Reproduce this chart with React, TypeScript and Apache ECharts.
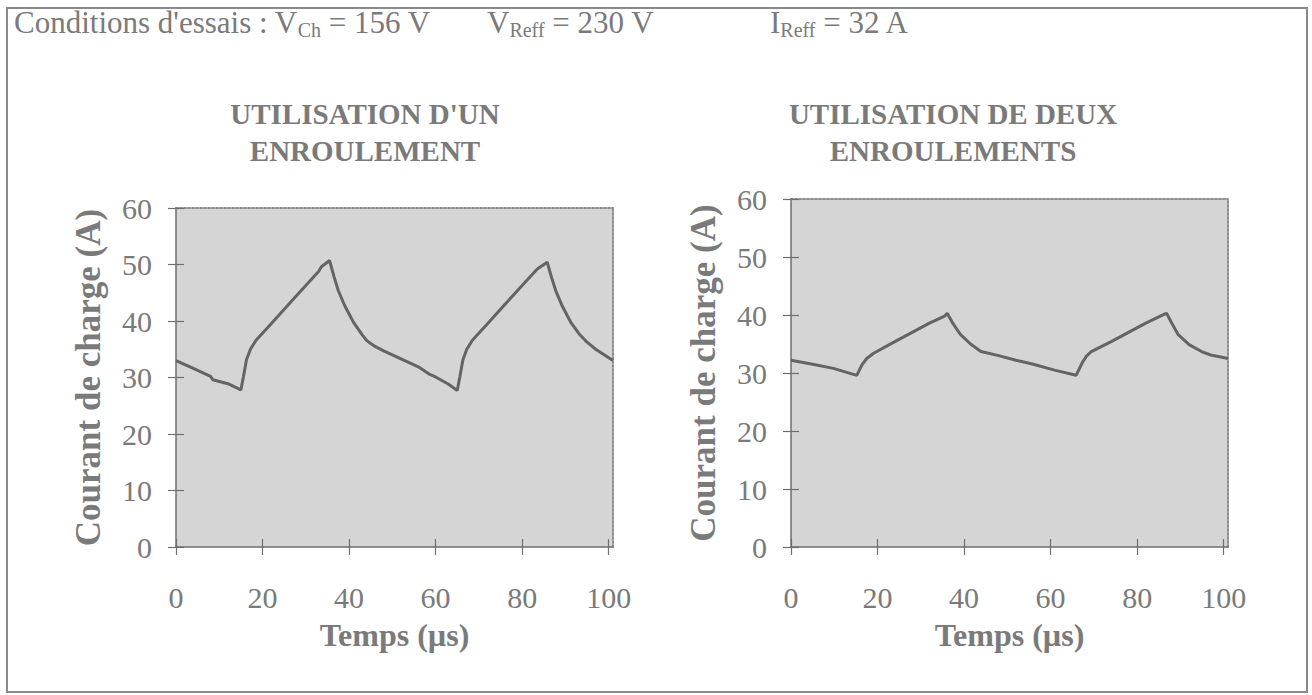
import React, { useEffect, useRef } from "react";
import * as echarts from "echarts";

// ---- Data ----
const leftTime = [0, 4, 8, 8.5, 12, 15, 15.6, 16.3, 17.2, 18.5, 22, 26, 30, 33, 33.6, 35.5, 36.5, 37.5, 39, 41, 43, 44, 44.5, 46, 48, 52, 56, 58.5, 60, 63, 65, 65.6, 66.3, 67.2, 68.5, 72, 76, 80, 83.5, 85.8, 86.8, 87.8, 89.3, 91.3, 93.3, 94.3, 94.8, 97, 101];
const leftCurrent = [33, 31.6, 30.2, 29.6, 28.9, 27.8, 30.2, 33.2, 35.0, 36.6, 39.5, 42.9, 46.3, 48.8, 49.6, 50.7, 47.9, 45.4, 42.7, 39.8, 37.6, 36.6, 36.3, 35.5, 34.7, 33.3, 31.9, 30.6, 30.1, 28.8, 27.7, 30.1, 33.1, 35.0, 36.6, 39.5, 42.9, 46.3, 49.2, 50.4, 47.7, 45.3, 42.6, 39.7, 37.6, 36.8, 36.4, 35.0, 33];

const rightTime = [0, 5, 9.8, 15.2, 16.4, 17.5, 19.1, 24, 28, 32, 35.5, 36.1, 37.3, 39.2, 41.5, 43.9, 48, 52, 56, 60.9, 65.9, 67.4, 68.3, 69.4, 74, 78, 82, 86.2, 86.8, 88, 89.5, 92, 94.9, 97, 101];
const rightCurrent = [32.2, 31.5, 30.8, 29.6, 31.4, 32.5, 33.4, 35.4, 37.0, 38.6, 39.8, 40.3, 38.7, 36.6, 35.0, 33.7, 33.0, 32.2, 31.5, 30.5, 29.6, 31.9, 32.9, 33.7, 35.4, 37.0, 38.6, 40.1, 40.3, 38.6, 36.6, 34.9, 33.7, 33.1, 32.5];

const xTicks = [0, 20, 40, 60, 80, 100];
const yMin = 0;
const yMax = 60;
const yStep = 10;
const xMin = 0;
const xMax = 101;

const titles = ["UTILISATION D'UN\nENROULEMENT", "UTILISATION DE DEUX\nENROULEMENTS"];
const xName = "Temps (µs)";
const yName = "Courant de charge (A)";

const FONT = '"Liberation Serif", "Times New Roman", serif';
const TEXT = "#7a7a7a";
const AXIS = "#6e6e6e";

export default function App() {
  const ref = useRef<HTMLDivElement>(null);
  useEffect(() => {
    if (!ref.current) return;
    const chart = echarts.init(ref.current, null, { renderer: "svg" });

    const grids = [
      { left: 176, top: 208, width: 437, height: 339 },
      { left: 791, top: 199, width: 437, height: 348 },
    ];

    const xAxes: any[] = [];
    const yAxes: any[] = [];
    grids.forEach((_, gi) => {
      xAxes.push({
        gridIndex: gi, type: "value", position: "bottom", min: xMin, max: xMax,
        axisLine: { show: true, onZero: false, lineStyle: { color: AXIS, width: 1.5 } },
        axisTick: { show: true, length: 8, customValues: xTicks, lineStyle: { color: AXIS, width: 1.2 } },
        axisLabel: { show: true, customValues: xTicks, fontSize: 30, fontFamily: FONT, color: TEXT, margin: 35 },
        splitLine: { show: false },
        name: xName, nameLocation: "middle", nameGap: 72,
        nameTextStyle: { fontSize: 32, fontWeight: "bold", fontFamily: FONT, color: TEXT },
      });
      xAxes.push({
        gridIndex: gi, type: "value", position: "bottom", min: xMin, max: xMax,
        axisLine: { show: false },
        axisTick: { show: true, inside: true, length: 8, customValues: xTicks, lineStyle: { color: AXIS, width: 1.2 } },
        axisLabel: { show: false }, splitLine: { show: false },
      });
      xAxes.push({
        gridIndex: gi, type: "value", position: "top", min: xMin, max: xMax,
        axisLine: { show: true, onZero: false, lineStyle: { color: "#8c8c8c", width: 2, type: "dotted" } },
        axisTick: { show: false }, axisLabel: { show: false }, splitLine: { show: false },
      });
      yAxes.push({
        gridIndex: gi, type: "value", position: "left", min: yMin, max: yMax, interval: yStep,
        axisLine: { show: true, onZero: false, lineStyle: { color: AXIS, width: 1.5 } },
        axisTick: { show: true, length: 8, lineStyle: { color: AXIS, width: 1.2 } },
        axisLabel: { show: true, fontSize: 30, fontFamily: FONT, color: TEXT, margin: 24 },
        splitLine: { show: false },
        name: yName, nameLocation: "middle", nameGap: 70,
        nameTextStyle: { fontSize: 35, fontWeight: "bold", fontFamily: FONT, color: TEXT },
      });
      yAxes.push({
        gridIndex: gi, type: "value", position: "left", min: yMin, max: yMax, interval: yStep,
        axisLine: { show: false },
        axisTick: { show: true, inside: true, length: 8, lineStyle: { color: AXIS, width: 1.2 } },
        axisLabel: { show: false }, splitLine: { show: false },
      });
      yAxes.push({
        gridIndex: gi, type: "value", position: "right", min: yMin, max: yMax, interval: yStep,
        axisLine: { show: true, onZero: false, lineStyle: { color: "#8c8c8c", width: 2, type: "dotted" } },
        axisTick: { show: false }, axisLabel: { show: false }, splitLine: { show: false },
      });
    });

    const mk = (t: number[], v: number[]) => t.map((x, i) => [x, v[i]]);

    const rich = {
      sub: { fontSize: 20, fontFamily: FONT, color: TEXT, padding: [15, 0, 0, 0] },
      b: { fontSize: 31, fontFamily: FONT, color: TEXT },
    };

    chart.setOption({
      animation: false,
      backgroundColor: "#ffffff",
      grid: grids.map((g) => ({
        ...g, show: true, backgroundColor: "#d5d5d5", borderWidth: 0, containLabel: false,
      })),
      xAxis: xAxes,
      yAxis: yAxes,
      series: [
        {
          type: "line", xAxisIndex: 0, yAxisIndex: 0, data: mk(leftTime, leftCurrent),
          showSymbol: false, lineStyle: { color: "#646464", width: 3 }, smooth: false,
        },
        {
          type: "line", xAxisIndex: 3, yAxisIndex: 3, data: mk(rightTime, rightCurrent),
          showSymbol: false, lineStyle: { color: "#646464", width: 3 }, smooth: false,
        },
      ],
      graphic: [
        {
          type: "rect", silent: true, z: -1,
          shape: { x: 7, y: 8, width: 1300, height: 684 },
          style: { fill: "none", stroke: "#8a8a8a", lineWidth: 2 },
        },
        {
          type: "text", x: 14, y: 5,
          style: {
            text: "{b|Conditions d'essais : V}{sub|Ch}{b| = 156 V}",
            rich, fill: TEXT,
          },
        },
        {
          type: "text", x: 487, y: 5,
          style: { text: "{b|V}{sub|Reff}{b| = 230 V}", rich, fill: TEXT },
        },
        {
          type: "text", x: 770, y: 5,
          style: { text: "{b|I}{sub|Reff}{b| = 32 A}", rich, fill: TEXT },
        },
        {
          type: "text", x: 365, y: 95,
          style: {
            text: titles[0], textAlign: "center", fill: TEXT, lineHeight: 37,
            font: `bold 29px ${FONT}`,
          },
        },
        {
          type: "text", x: 953, y: 95,
          style: {
            text: titles[1], textAlign: "center", fill: TEXT, lineHeight: 37,
            font: `bold 29px ${FONT}`,
          },
        },
      ],
    });

    return () => chart.dispose();
  }, []);

  return (
    <div
      ref={ref}
      style={{ position: "fixed", left: 0, top: 0, width: 1312, height: 695, background: "#fff" }}
    />
  );
}
